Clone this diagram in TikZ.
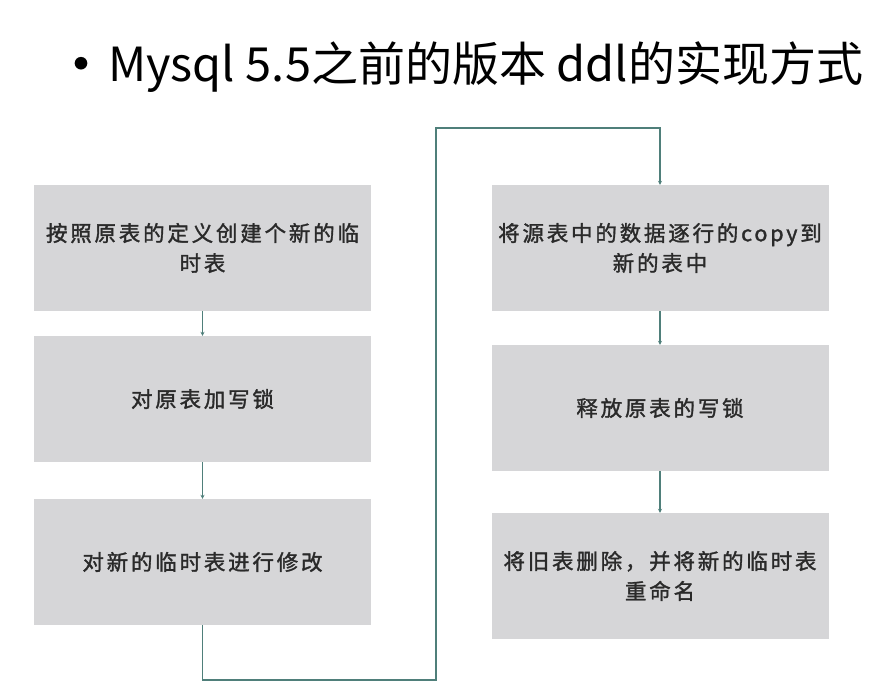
\documentclass[tikz,border=0pt]{standalone}
\usepackage{fontspec}
\setmainfont{Noto Sans CJK SC}
\newfontfamily\boxfont[LetterSpace=13,FakeBold=1.5]{Noto Sans CJK SC}
\usetikzlibrary{arrows.meta}
\definecolor{boxgray}{HTML}{D6D6D8}
\definecolor{txtgray}{HTML}{2A2A2A}
\definecolor{linkteal}{HTML}{4F7F7A}
\tikzset{
  stepbox/.style={fill=boxgray, draw=none, minimum width=337pt, minimum height=126pt,
    inner sep=0pt, align=center, text=txtgray, font=\boxfont\fontsize{21.5}{30}\selectfont},
  link/.style={draw=linkteal, line width=1.4pt, -{Stealth[length=4pt,width=4pt]}},
}
\begin{document}
\begin{tikzpicture}[x=1pt,y=-1pt]
\useasboundingbox (0,0) rectangle (880,690);
\node[inner sep=0pt, font=\fontsize{60}{60}\selectfont, text=black] (bullet) at (81,72) {•};
\node[anchor=base west, font=\fontsize{47}{50}\selectfont, text=black, inner sep=0pt] (title) at (108,82) {Mysql 5.5之前的版本 ddl的实现方式};
\node[stepbox] (a1) at (202.5,248) {按照原表的定义创建个新的临\\时表};
\node[stepbox] (a2) at (202.5,399) {对原表加写锁};
\node[stepbox] (a3) at (202.5,562) {对新的临时表进行修改};
\node[stepbox] (b1) at (660,248) {将源表中的数据逐行的copy到\\新的表中};
\node[stepbox] (b2) at (660,408) {释放原表的写锁};
\node[stepbox] (b3) at (660,576) {将旧表删除，并将新的临时表\\重命名};
\coordinate (c1) at (202.5,680);
\coordinate (c2) at (436,680);
\coordinate (c3) at (436,128);
\coordinate (c4) at (660,128);
\draw[link] (a1) -- (a2);
\draw[link] (a2) -- (a3);
\draw[link] (a3.south) -- (c1) -- (c2) -- (c3) -- (c4) -- (b1.north);
\draw[link] (b1) -- (b2);
\draw[link] (b2) -- (b3);
\end{tikzpicture}
\end{document}
